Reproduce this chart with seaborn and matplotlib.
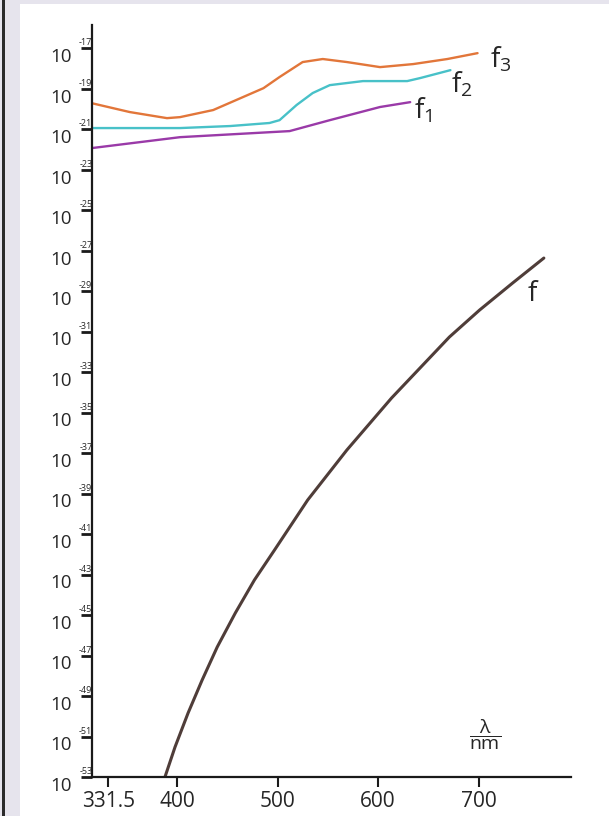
import pandas as pd
import matplotlib.pyplot as plt
import seaborn as sns
from matplotlib.patches import Rectangle
from matplotlib.transforms import ScaledTranslation

# Curves: wavelength in nm, value as a power of ten
f_nm = [388, 398, 411, 425, 440, 458, 477, 497, 530, 569, 613.5, 671, 701, 734, 765]
f_exp = [-53.0, -51.52, -49.84, -48.21, -46.58, -44.9, -43.27, -41.79, -39.32, -36.85, -34.28, -31.27, -29.94, -28.6, -27.37]

f1_nm = [315, 403, 512, 552, 602, 632]
f1_exp = [-21.94, -21.40, -21.10, -20.56, -19.91, -19.67]

f2_nm = [315, 403, 453, 492, 502, 519, 535, 552, 585, 629, 642, 672]
f2_exp = [-20.95, -20.95, -20.85, -20.70, -20.56, -19.81, -19.22, -18.83, -18.63, -18.63, -18.48, -18.09]

f3_nm = [315, 353, 390, 403, 436, 486, 502, 525, 545, 569, 602, 635, 669, 699]
f3_exp = [-19.72, -20.16, -20.46, -20.41, -20.06, -18.98, -18.43, -17.69, -17.54, -17.69, -17.94, -17.79, -17.54, -17.25]

x_ticks = [331.5, 400, 500, 600, 700]
x_tick_labels = ['331.5', '400', '500', '600', '700']
y_tick_exps = list(range(-17, -54, -2))

curves = [
    ('f', f_nm, f_exp, '#4f3d39', 2.2),
    ('f1', f1_nm, f1_exp, '#9a3aa8', 1.7),
    ('f2', f2_nm, f2_exp, '#48c1c8', 1.7),
    ('f3', f3_nm, f3_exp, '#e2763a', 1.7),
]

sns.set_style('ticks')
plt.rcParams['font.family'] = ['Open Sans', 'DejaVu Sans']
plt.rcParams['mathtext.fontset'] = 'custom'
plt.rcParams['mathtext.rm'] = 'Open Sans'
plt.rcParams['mathtext.it'] = 'Open Sans'

fig = plt.figure(figsize=(6.09, 8.16), dpi=100)
fig.patch.set_facecolor('#e6e4ed')
# white sheet and dark edge line on the left
fig.patches.append(Rectangle((20 / 609, 0), 1, 812 / 816, transform=fig.transFigure,
                             facecolor='white', edgecolor='none', zorder=-10))
fig.patches.append(Rectangle((2 / 609, 0), 2.5 / 609, 1, transform=fig.transFigure,
                             facecolor='#2b2b2b', edgecolor='none', zorder=-10))

ax = fig.add_axes([92 / 609, 39 / 816, (571 - 92) / 609, (791 - 39) / 816])
ax.patch.set_alpha(0)

for name, nm, ex, color, lw in curves:
    df = pd.DataFrame({'nm': nm, 'value': [10.0 ** e for e in ex]})
    sns.lineplot(data=df, x='nm', y='value', color=color, linewidth=lw, ax=ax,
                 sort=False, estimator=None)

ax.set_yscale('log')
ax.set_xlim(315.4, 792)
ax.set_ylim(10.0 ** -53, 10.0 ** -15.86)
ax.set_xlabel('')
ax.set_ylabel('')

ax.set_xticks(x_ticks)
ax.set_xticklabels(x_tick_labels, fontsize=15)
ax.set_yticks([10.0 ** e for e in y_tick_exps])
ax.set_yticklabels(['10'] * len(y_tick_exps), fontsize=13.5)
ax.minorticks_off()
ax.tick_params(axis='y', direction='out', length=8, width=2, pad=6.5, color='#1a1a1a')
ax.tick_params(axis='x', direction='out', length=7, width=1.5, pad=3, color='#1a1a1a')
for lab in ax.get_yticklabels():
    lab.set_transform(lab.get_transform() + ScaledTranslation(0, -5 / 72, fig.dpi_scale_trans))

# small exponents sitting over the tick marks
for e in y_tick_exps:
    ax.annotate(str(e), xy=(0, 10.0 ** e), xycoords=('axes fraction', 'data'),
                xytext=(-4.5, 0.5), textcoords='offset points', ha='center', va='bottom',
                fontsize=6.5)

sns.despine(ax=ax)
for side in ['left', 'bottom']:
    ax.spines[side].set_linewidth(1.6)
    ax.spines[side].set_color('#1a1a1a')

# curve names
ax.text(711, 10.0 ** -17.94, r'$\mathregular{f_3}$', fontsize=20, ha='left', va='baseline')
ax.text(673, 10.0 ** -19.17, r'$\mathregular{f_2}$', fontsize=20, ha='left', va='baseline')
ax.text(636, 10.0 ** -20.46, r'$\mathregular{f_1}$', fontsize=20, ha='left', va='baseline')
ax.text(749, 10.0 ** -29.49, 'f', fontsize=20, ha='left', va='baseline')

# axis unit
ax.text(706, 10.0 ** -50.9, r'$\mathregular{\dfrac{\lambda}{nm}}$', fontsize=14,
        ha='center', va='center')

fig.savefig('out.png', dpi=100, facecolor=fig.get_facecolor())
